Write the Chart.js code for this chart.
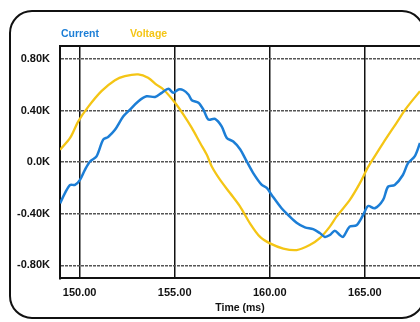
<!DOCTYPE html>
<html>
<head>
<meta charset="utf-8">
<script src="https://cdn.jsdelivr.net/npm/chart.js@4.4.1/dist/chart.umd.min.js"></script>
<style>
  html, body { margin: 0; padding: 0; background: #fff; }
  #wrap { position: relative; width: 420px; height: 322px; overflow: hidden; }
  #legend { position: absolute; top: 27px; left: 61px; font: bold 10.5px "Liberation Sans", Arial, sans-serif; }
  #legend span { position: absolute; white-space: nowrap; }
</style>
</head>
<body>
<div id="wrap">
  <canvas id="myChart" width="420" height="322"></canvas>
  <div id="legend"></div>
</div>
<script>
// values in K, time in ms
var voltTime = [148.97, 149.5, 149.93, 150.46, 151.15, 151.86, 152.38, 153.08, 153.6, 154.04,
  154.41, 155.02, 155.46, 155.9, 156.34, 156.69, 156.95, 157.39, 157.91, 158.44,
  158.96, 159.49, 160.01, 160.71, 161.41, 162.1, 162.63, 163.16, 163.51, 164.21,
  164.74, 165.09, 165.35, 165.96, 166.66, 167.19, 167.9];
var voltValues = [0.096, 0.187, 0.316, 0.43, 0.55, 0.635, 0.666, 0.68, 0.654, 0.6,
  0.563, 0.46, 0.368, 0.265, 0.148, 0.057, -0.034, -0.138, -0.24, -0.345,
  -0.475, -0.58, -0.63, -0.67, -0.682, -0.643, -0.59, -0.5, -0.423, -0.293,
  -0.163, -0.06, 0.005, 0.148, 0.303, 0.42, 0.55];

var currTime = [148.97, 149.23, 149.5, 149.76, 150.02, 150.28, 150.55, 150.89, 151.24, 151.5,
  151.86, 152.3, 152.65, 153.08, 153.52, 153.97, 154.32, 154.67, 154.93, 155.2,
  155.46, 155.72, 155.9, 156.25, 156.51, 156.77, 157.12, 157.47, 157.74, 158.08,
  158.44, 158.79, 159.13, 159.58, 159.84, 160.1, 160.62, 160.97, 161.41, 161.85,
  162.28, 162.63, 162.9, 163.16, 163.42, 163.68, 163.86, 164.2, 164.56, 164.91,
  165.17, 165.52, 165.96, 166.22, 166.57, 167.0, 167.27, 167.62, 167.9];
var currValues = [-0.32, -0.24, -0.177, -0.177, -0.138, -0.06, 0.005, 0.044, 0.174, 0.195,
  0.25, 0.355, 0.407, 0.47, 0.51, 0.505, 0.537, 0.568, 0.537, 0.563,
  0.557, 0.524, 0.48, 0.46, 0.407, 0.33, 0.335, 0.277, 0.187, 0.16,
  0.1, 0.005, -0.085, -0.177, -0.2, -0.255, -0.358, -0.41, -0.47, -0.506,
  -0.52, -0.55, -0.58, -0.565, -0.532, -0.565, -0.58, -0.5, -0.49, -0.41,
  -0.34, -0.358, -0.293, -0.19, -0.177, -0.1, -0.008, 0.044, 0.148];

var seriesNames = ['Current', 'Voltage'];
var seriesColors = ['#1c7ed6', '#f4c515'];
var xTicks = [150, 155, 160, 165];
var yTicks = [-0.8, -0.4, 0, 0.4, 0.8];

function toPoints(xs, ys) {
  var pts = [];
  for (var i = 0; i < xs.length; i++) pts.push({x: xs[i], y: ys[i]});
  return pts;
}

// html legend, text only
var legend = document.getElementById('legend');
var legendLeft = [0, 69];
for (var i = 0; i < seriesNames.length; i++) {
  var s = document.createElement('span');
  s.textContent = seriesNames[i];
  s.style.color = seriesColors[i];
  s.style.left = legendLeft[i] + 'px';
  legend.appendChild(s);
}

// rounded frame around the whole chart
var framePlugin = {
  id: 'frame',
  beforeDraw: function(chart) {
    var c = chart.ctx;
    c.save();
    c.fillStyle = '#fff';
    c.fillRect(0, 0, chart.width, chart.height);
    c.beginPath();
    c.roundRect(10, 11, 414, 307, 22);
    c.lineWidth = 2;
    c.strokeStyle = '#111';
    c.stroke();
    c.restore();
  }
};

var tickFont = {family: '"Liberation Sans", Arial, sans-serif', size: 11, weight: 'bold'};

var ctx = document.getElementById('myChart').getContext('2d');
var myChart = new Chart(ctx, {
    type: 'scatter',
    data: {
        datasets: [{
            label: seriesNames[0],
            data: toPoints(currTime, currValues),
            showLine: true,
            borderColor: seriesColors[0],
            borderWidth: 2.5,
            pointRadius: 0,
            tension: 0.3
        }, {
            label: seriesNames[1],
            data: toPoints(voltTime, voltValues),
            showLine: true,
            borderColor: seriesColors[1],
            borderWidth: 2.3,
            pointRadius: 0,
            tension: 0.3
        }]
    },
    options: {
      responsive: false,
      animation: false,
      layout: {
        padding: {top: 46, left: 7, right: 0, bottom: 8}
      },
      plugins: {
        legend: { display: false },
        tooltip: { enabled: false }
      },
      scales: {
        x: {
          type: 'linear',
          min: 148.97,
          max: 167.9,
          afterBuildTicks: function(axis) {
            axis.ticks = xTicks.map(function(v) { return {value: v}; });
          },
          ticks: {
            color: '#111',
            font: tickFont,
            padding: 8,
            maxRotation: 0,
            callback: function(v) { return v.toFixed(2); }
          },
          grid: { color: '#111', lineWidth: 1.5, drawTicks: false },
          border: { color: '#111', width: 2 },
          title: {
            display: true,
            text: 'Time (ms)',
            color: '#111',
            font: {family: '"Liberation Sans", Arial, sans-serif', size: 10.5, weight: 'bold'},
            padding: {top: -6, bottom: 0}
          }
        },
        xTop: {
          type: 'linear',
          position: 'top',
          min: 148.97,
          max: 167.9,
          ticks: { display: false },
          grid: { display: false, drawTicks: false },
          border: { color: '#111', width: 2 }
        },
        y: {
          min: -0.9,
          max: 0.9,
          afterBuildTicks: function(axis) {
            axis.ticks = yTicks.map(function(v) { return {value: v}; });
          },
          ticks: {
            color: '#111',
            font: tickFont,
            padding: 10,
            callback: function(v) { return v === 0 ? '0.0K' : v.toFixed(2) + 'K'; }
          },
          grid: { color: '#555', lineWidth: 1.4, drawTicks: false },
          border: { color: '#111', width: 2, dash: [3, 1] }
        }
      }
    },
    plugins: [framePlugin]
});
</script>
</body>
</html>
